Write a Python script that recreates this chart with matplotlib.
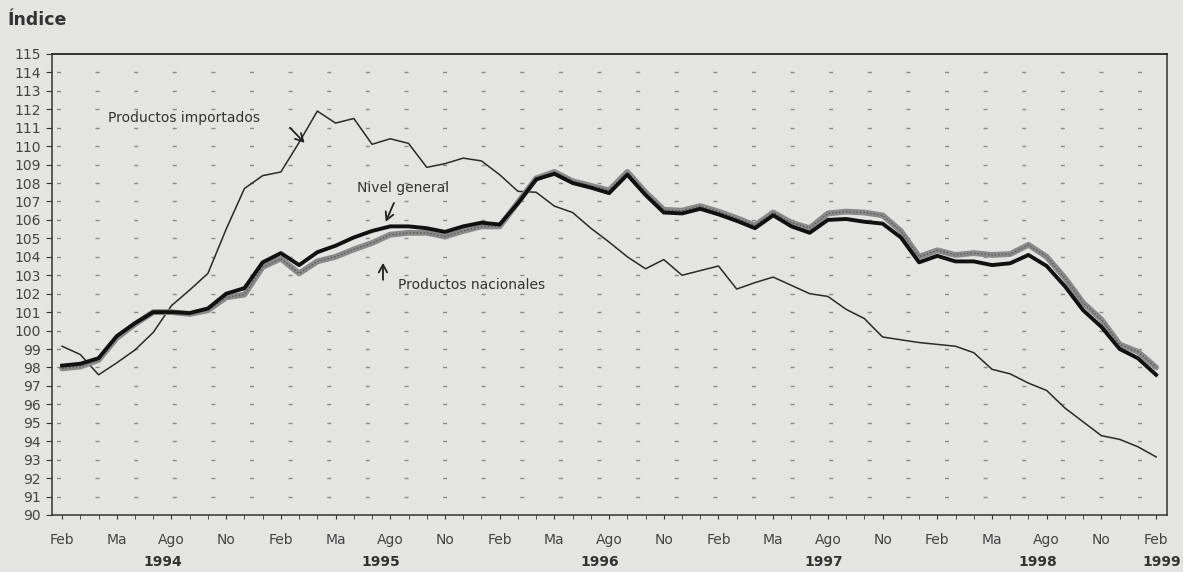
import matplotlib.pyplot as plt
import matplotlib.transforms as mtransforms

plt.rcParams['font.family'] = ['DejaVu Sans']

# monthly index, Feb 1994 .. Feb 1999
months = list(range(61))
tick_names = ['Feb', 'Ma', 'Ago', 'No']
years = ['1994', '1995', '1996', '1997', '1998', '1999']
year_pos = [5.5, 17.5, 29.5, 41.8, 53.5, 60.3]

importados = [99.15, 98.7, 97.6, 98.25, 98.95, 99.9, 101.35, 102.2, 103.1, 105.5,
              107.7, 108.4, 108.6, 110.2, 111.9, 111.25, 111.5, 110.1, 110.4, 110.15,
              108.85, 109.05, 109.35, 109.2, 108.45, 107.55, 107.5, 106.75, 106.4, 105.55,
              104.8, 104.0, 103.35, 103.85, 103.0, 103.25, 103.5, 102.25, 102.6, 102.9,
              102.45, 102.0, 101.85, 101.15, 100.65, 99.65, 99.5, 99.35, 99.25, 99.15,
              98.8, 97.9, 97.65, 97.15, 96.75, 95.8, 95.05, 94.3, 94.1, 93.7, 93.15]

general = [98.1, 98.2, 98.5, 99.7, 100.4, 101.0, 101.0, 100.95, 101.2, 102.0,
           102.3, 103.7, 104.2, 103.55, 104.25, 104.6, 105.05, 105.4, 105.65, 105.65,
           105.55, 105.35, 105.65, 105.85, 105.75, 106.9, 108.2, 108.5, 108.0, 107.75,
           107.45, 108.45, 107.35, 106.4, 106.35, 106.6, 106.3, 105.95, 105.55, 106.25,
           105.65, 105.3, 106.0, 106.05, 105.9, 105.8, 105.05, 103.7, 104.05, 103.75,
           103.75, 103.55, 103.65, 104.1, 103.5, 102.4, 101.1, 100.2, 99.0, 98.5, 97.6]

nacionales = [97.95, 98.05, 98.4, 99.6, 100.35, 101.0, 101.0, 100.9, 101.1, 101.8,
              101.95, 103.45, 103.9, 103.1, 103.75, 104.0, 104.4, 104.75, 105.2, 105.3,
              105.3, 105.1, 105.4, 105.65, 105.65, 106.95, 108.25, 108.6, 108.1, 107.85,
              107.6, 108.6, 107.5, 106.55, 106.5, 106.75, 106.45, 106.1, 105.7, 106.4,
              105.85, 105.55, 106.35, 106.45, 106.4, 106.25, 105.4, 104.0, 104.35, 104.1,
              104.2, 104.1, 104.15, 104.65, 104.0, 102.85, 101.5, 100.6, 99.25, 98.85, 98.0]

bg = '#e4e4e2'
txt = '#333333'
fig = plt.figure(figsize=(11.83, 5.72), dpi=100, facecolor=bg)
ax = fig.add_axes([0.044, 0.0997, 0.9425, 0.806], facecolor=bg)

# dashed horizontal grid
for v in range(91, 115):
    ax.axhline(v, color='#8a8a8a', lw=1.0, ls=(24.6, (2.9, 24.9)), zorder=1)

ax.plot(months, importados, color='#2a2a2a', lw=1.1, zorder=3)
ax.plot(months, nacionales, color='#8a8a8a', lw=4.2, zorder=4, solid_capstyle='round')
ax.plot(months, nacionales, color='#5a5a5a', lw=1.0, ls=(0, (1, 1.5)), zorder=4)
ax.plot(months, general, color='#111111', lw=2.8, zorder=5)

ax.set_xlim(-0.55, 60.6)
ax.set_ylim(90, 115)
ax.set_yticks(range(90, 116))
ax.tick_params(axis='y', labelsize=10, length=4, colors='#333333', pad=4)
ax.set_xticks(months[::3])
ax.set_xticklabels([tick_names[k % 4] for k in range(len(months[::3]))])
ax.set_xticks(months, minor=True)
ax.tick_params(axis='x', which='both', length=3, labelsize=10, colors='#333333', pad=10)
for lab in ax.get_yticklabels() + ax.get_xticklabels():
    lab.set_color('#444444')
for s in ax.spines.values():
    s.set_color('#333333')
    s.set_linewidth(1.1)
ax.spines['top'].set_linewidth(1.4)

trans = mtransforms.blended_transform_factory(ax.transData, fig.transFigure)
for yr, xp in zip(years, year_pos):
    ax.text(xp, 0.017, yr, transform=trans, ha='center', va='center',
            fontsize=10, fontweight='bold', color=txt)

fig.text(0.006, 0.965, 'Índice', fontsize=12.5, fontweight='bold', color=txt,
         ha='left', va='center')

arrow = dict(arrowstyle='->,head_length=0.55,head_width=0.3', lw=1.3,
             color='#222222', shrinkA=0, shrinkB=0)
ax.text(2.5, 111.53, 'Productos importados', fontsize=10, color=txt, va='center')
ax.annotate('', xy=(13.3, 110.18), xytext=(12.5, 111.0), arrowprops=arrow)
ax.text(16.2, 107.74, 'Nivel general', fontsize=10, color=txt, va='center')
ax.annotate('', xy=(17.75, 105.9), xytext=(18.2, 106.92), arrowprops=arrow)
ax.text(18.4, 102.48, 'Productos nacionales', fontsize=10, color=txt, va='center')
ax.annotate('', xy=(17.6, 103.67), xytext=(17.6, 102.75), arrowprops=arrow)

plt.savefig('out.png', dpi=100, facecolor=bg)
